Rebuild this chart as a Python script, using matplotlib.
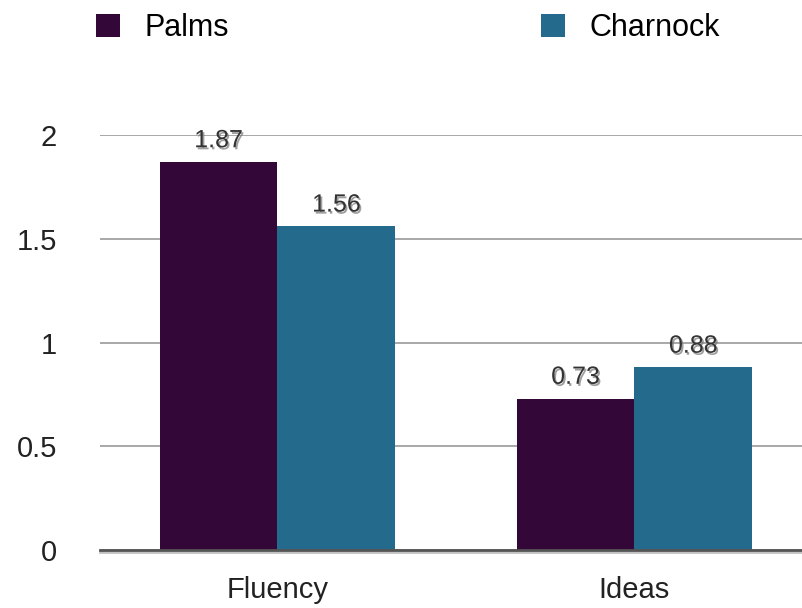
import matplotlib.pyplot as plt
import matplotlib.patheffects as pe
import numpy as np

categories = ["Fluency", "Ideas"]
palms = [1.87, 0.73]
charnock = [1.56, 0.88]
yticks = [0, 0.5, 1, 1.5, 2]
ytick_labels = ["0", "0.5", "1", "1.5", "2"]

c_palms = "#330737"
c_charnock = "#246a8c"

plt.rcParams['font.family'] = ['Liberation Sans', 'DejaVu Sans']

fig = plt.figure(figsize=(8.03, 6.08), dpi=100)
ax = fig.add_axes([100/803, 1 - 550/608, 1 - 100/803, (550 - 135)/608])

x = np.arange(len(categories))
w = 0.33
b1 = ax.bar(x - w/2, palms, w, color=c_palms, label="Palms", zorder=3)
b2 = ax.bar(x + w/2, charnock, w, color=c_charnock, label="Charnock", zorder=3)

shadow = [pe.SimplePatchShadow(offset=(1.2, -1.5), shadow_rgbFace="#777777", alpha=0.7), pe.Normal()]
for bars, vals in ((b1, palms), (b2, charnock)):
	for rect, v in zip(bars, vals):
		t = ax.annotate(f"{v:.2f}", (rect.get_x() + rect.get_width()/2, v),
			xytext=(0, 7), textcoords="offset points", ha="center", va="bottom",
			fontsize=18, color="#333333", zorder=5, annotation_clip=False)
		t.set_path_effects(shadow)

ax.set_xlim(-0.497, 1.472)
ax.set_ylim(0, 2)
ax.set_yticks(yticks)
ax.set_yticklabels(ytick_labels)
ax.set_xticks(x)
ax.set_xticklabels(categories)
ax.tick_params(axis="y", length=0, pad=31, labelsize=21, colors="#222222")
ax.tick_params(axis="x", length=0, pad=19, labelsize=21, colors="#222222")
ax.yaxis.grid(True, color="#999999", linewidth=1.2, zorder=0)
for s in ["top", "right", "left"]:
	ax.spines[s].set_visible(False)
ax.spines["bottom"].set_color("#555555")
ax.spines["bottom"].set_linewidth(2)
ax.spines["bottom"].set_zorder(4)
ax.spines["bottom"].set_path_effects([pe.SimpleLineShadow(offset=(0, -1.5), shadow_color="#999999", alpha=0.6), pe.Normal()])

fig.legend(loc="upper left", bbox_to_anchor=(96/803, 1 - 13/608), ncol=2, frameon=False,
	fontsize=22, handlelength=0.78, handleheight=0.78, handletextpad=0.82,
	columnspacing=10.2, borderpad=0, borderaxespad=0)

fig.savefig("out.png", dpi=100)
